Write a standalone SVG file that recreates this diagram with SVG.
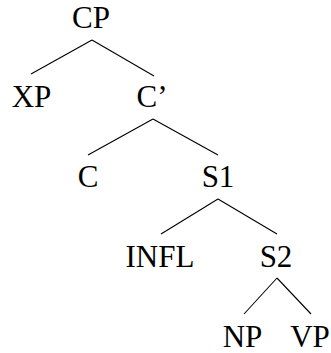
<svg xmlns="http://www.w3.org/2000/svg" width="331" height="353" viewBox="0 0 331 353">
<style>
text{font-family:"Liberation Serif","Times New Roman",serif;font-size:31px;fill:#000;text-anchor:middle}
.e line{stroke:#000;stroke-width:1.1}
</style>
<rect width="331" height="353" fill="#fff"/>
<g id="connectors" class="e">
<line x1="92" y1="40" x2="31" y2="74"/>
<line x1="92" y1="40" x2="154" y2="76"/>
<line x1="153" y1="119" x2="88" y2="155"/>
<line x1="153" y1="119" x2="218" y2="155"/>
<line x1="218" y1="199" x2="161" y2="234"/>
<line x1="218" y1="199" x2="277" y2="234"/>
<line x1="277" y1="278" x2="244" y2="314"/>
<line x1="277" y1="278" x2="311" y2="314"/>
</g>
<g id="CP"><text x="91" y="28">CP</text></g>
<g id="XP"><text x="31.5" y="107">XP</text></g>
<g id="Cbar"><text x="152" y="107">C’</text></g>
<g id="C"><text x="88" y="187">C</text></g>
<g id="S1"><text x="218" y="187">S1</text></g>
<g id="INFL"><text x="160" y="267">INFL</text></g>
<g id="S2"><text x="276" y="267">S2</text></g>
<g id="NP"><text x="242.5" y="347">NP</text></g>
<g id="VP"><text x="310" y="347">VP</text></g>
</svg>
